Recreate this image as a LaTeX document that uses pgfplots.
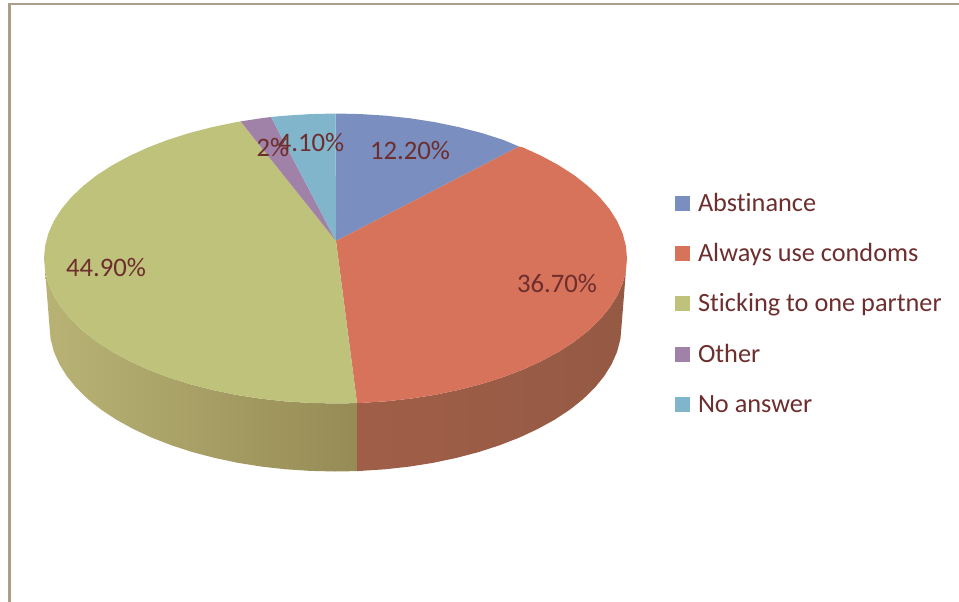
\documentclass[border=0pt]{standalone}
\usepackage{fontspec}
\setmainfont[Ligatures=NoCommon]{Carlito}
\usepackage{pgfplots}
\pgfplotsset{compat=1.18}
\definecolor{cblue}{HTML}{7A8FC0}
\definecolor{cred}{HTML}{D6735A}
\definecolor{colive}{HTML}{BFC27A}
\definecolor{cpurple}{HTML}{A081A8}
\definecolor{caqua}{HTML}{80B5CC}
\definecolor{ctext}{HTML}{6E2E2E}
\definecolor{cborder}{HTML}{AD9E8C}
\definecolor{sideA}{HTML}{B8B375}
\definecolor{sideB}{HTML}{ACA668}
\definecolor{sideC}{HTML}{968B55}
\definecolor{sideD}{HTML}{A05E48}
\definecolor{sideE}{HTML}{955A44}
\begin{document}
\begin{tikzpicture}[x=1pt,y=1pt]
\begin{axis}[
  scale only axis, width=959pt, height=602pt,
  xmin=0, xmax=959, ymin=0, ymax=602, y dir=reverse,
  hide axis,
  legend cell align=left,
  legend style={at={(axis cs:675,194.5)}, anchor=north west, draw=none, fill=none,
    inner sep=0pt, outer sep=0pt, row sep=26.2pt, column sep=8pt,
    font=\fontsize{26.3}{26.3}\selectfont\color{ctext},
    nodes={inner sep=0pt, outer sep=0pt, text height=17pt, text depth=7pt}},
  legend image code/.code={\fill[#1] (0pt,-4.5pt) rectangle (15pt,10.5pt);},
]
% frame
\addplot[forget plot, draw=cborder, line width=3pt] coordinates {(9.5,602)(9.5,3)};
\addplot[forget plot, draw=cborder, line width=2pt] coordinates {(8,4)(959,4)};
% side walls
\addplot[forget plot, draw=none, left color=sideA, middle color=sideB, right color=sideC] coordinates {
(45.1,271.1)(48.4,283.7)(53.9,296.0)(61.6,308.1)(71.3,319.8)(83.1,331.0)(96.7,341.7)(112.2,351.7)(129.4,361.0)(148.1,369.6)(168.3,377.3)(189.7,384.1)(212.3,389.9)(235.8,394.8)(260.1,398.6)(284.9,401.3)(310.1,402.9)(335.5,403.5)(357,403.1)
(357,471.1)(335.5,471.5)(310.6,470.9)(285.9,469.3)(261.5,466.6)(237.7,462.8)(214.6,457.9)(192.5,452.1)(171.5,445.3)(151.7,437.6)(133.3,429.0)(116.4,419.7)(101.2,409.7)(87.8,399.0)(76.3,387.8)(66.8,376.1)(59.3,364.0)(53.9,351.7)(50.6,339.1)(49.5,326.5)(45.1,271.1)};
\addplot[forget plot, draw=none, left color=sideD, right color=sideE] coordinates {
(357,403.1)(360.9,402.9)(386.1,401.3)(410.9,398.6)(435.2,394.8)(458.7,389.9)(481.3,384.1)(502.7,377.3)(522.9,369.6)(541.6,361.0)(558.8,351.7)(574.3,341.7)(587.9,331.0)(599.7,319.8)(609.4,308.1)(617.1,296.0)(622.6,283.7)(625.9,271.1)
(621.5,326.5)(620.4,339.1)(617.1,351.7)(611.7,364.0)(604.2,376.1)(594.7,387.8)(583.2,399.0)(569.8,409.7)(554.6,419.7)(537.7,429.0)(519.3,437.6)(499.5,445.3)(478.5,452.1)(456.4,457.9)(433.3,462.8)(409.5,466.6)(385.1,469.3)(360.4,470.9)(357,471.1)(357,403.1)};
% top slices
\addplot[draw=none, fill=cblue] coordinates {
(336,241)(335.5,113.5)(360.9,114.1)(386.1,115.7)(410.9,118.4)(435.2,122.2)(458.7,127.1)(481.3,132.9)(502.7,139.7)(519,146.5)(336,241)};
\addlegendentry{Abstinance}
\addplot[draw=none, fill=cred] coordinates {
(336,241)(519,146.5)(522.9,147.4)(541.6,156.0)(558.8,165.3)(574.3,175.3)(587.9,186.0)(599.7,197.2)(609.4,208.9)(617.1,221.0)(622.6,233.3)(625.9,245.9)(627,258.5)(625.9,271.1)(622.6,283.7)(617.1,296.0)(609.4,308.1)(599.7,319.8)(587.9,331.0)(574.3,341.7)(558.8,351.7)(541.6,361.0)(522.9,369.6)(502.7,377.3)(481.3,384.1)(458.7,389.9)(435.2,394.8)(410.9,398.6)(386.1,401.3)(360.9,402.9)(357,403.1)(336,241)};
\addlegendentry{Always use condoms}
\addplot[draw=none, fill=colive] coordinates {
(336,241)(357,403.1)(335.5,403.5)(310.1,402.9)(284.9,401.3)(260.1,398.6)(235.8,394.8)(212.3,389.9)(189.7,384.1)(168.3,377.3)(148.1,369.6)(129.4,361.0)(112.2,351.7)(96.7,341.7)(83.1,331.0)(71.3,319.8)(61.6,308.1)(53.9,296.0)(48.4,283.7)(45.1,271.1)(44,258.5)(45.1,245.9)(48.4,233.3)(53.9,221.0)(61.6,208.9)(71.3,197.2)(83.1,186.0)(96.7,175.3)(112.2,165.3)(129.4,156.0)(148.1,147.4)(168.3,139.7)(189.7,132.9)(212.3,127.1)(235.8,122.2)(240.6,121.4)(336,241)};
\addlegendentry{Sticking to one partner}
\addplot[draw=none, fill=cpurple] coordinates {
(336,241)(240.6,121.4)(260.1,118.4)(271,117)(336,241)};
\addlegendentry{Other}
\addplot[draw=none, fill=caqua] coordinates {
(336,241)(271,117)(284.9,115.7)(310.1,114.1)(335.5,113.5)(336,241)};
\addlegendentry{No answer}
% data labels
\begin{scope}[every node/.style={anchor=base, inner sep=0pt, text=ctext, font=\fontsize{26.7}{26.7}\selectfont}]
\node at (axis cs:410,159) {12.20\%};
\node at (axis cs:557,292) {36.70\%};
\node at (axis cs:106,276) {44.90\%};
\node at (axis cs:273,156) {2\%};
\node at (axis cs:311,151) {4.10\%};
\end{scope}
\end{axis}
\pgfresetboundingbox
\path[use as bounding box] (0,0) rectangle (959pt,602pt);
\end{tikzpicture}
\end{document}
